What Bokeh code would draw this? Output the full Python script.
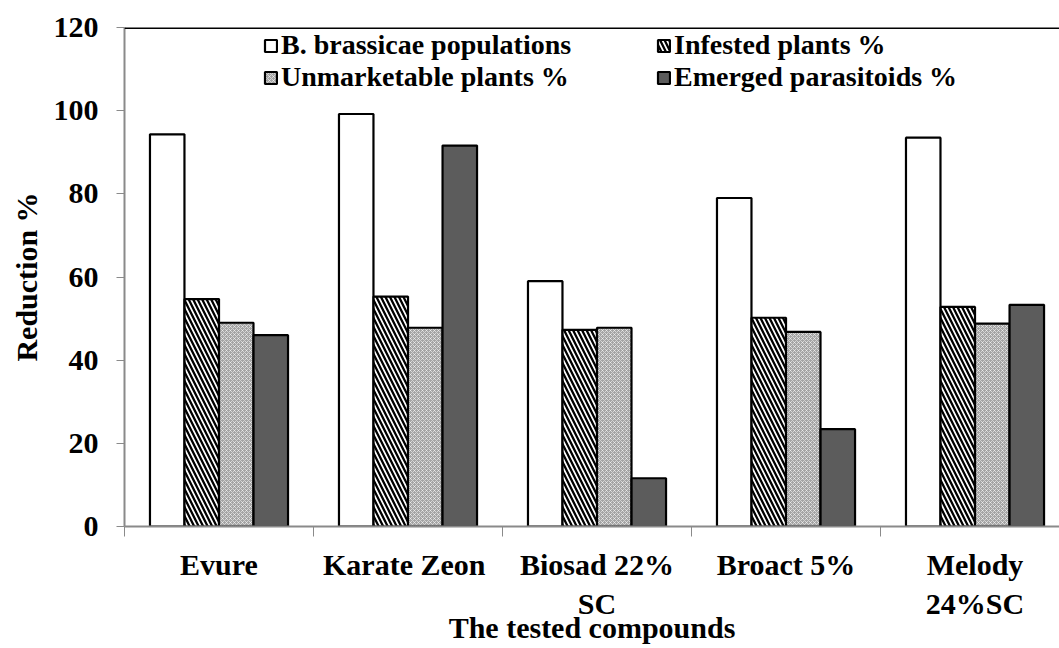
from bokeh.plotting import figure
from bokeh.models import Range1d, FixedTicker, Span, ColumnDataSource, Legend, LegendItem
from bokeh.embed import file_html
from bokeh.resources import INLINE
from bokeh.transform import dodge

# ---- data ----
compounds = ["Evure", "Karate  Zeon", "Biosad 22%\nSC", "Broact 5%", "Melody\n24%SC"]
series_names = ["B. brassicae populations", "Infested plants %",
                "Unmarketable plants %", "Emerged parasitoids %"]
populations = [94.3, 99.2, 59.0, 79.0, 93.5]
infested = [54.7, 55.3, 47.3, 50.2, 52.8]
unmarketable = [49.0, 47.8, 47.8, 46.8, 48.8]
parasitoids = [46.0, 91.6, 11.6, 23.4, 53.3]
y_ticks = [0, 20, 40, 60, 80, 100, 120]
x_title = "The tested compounds"
y_title = "Reduction %"

FONT = "Liberation Serif"

centers = [i + 0.5 for i in range(len(compounds))]
src = ColumnDataSource(dict(x=centers, pop=populations, inf=infested,
                            unm=unmarketable, par=parasitoids))

p = figure(width=1059, height=648, output_backend="svg", toolbar_location=None,
           x_range=Range1d(0, 4.947), y_range=Range1d(0, 120))
p.min_border_left = 124
p.min_border_top = 27
p.min_border_bottom = 122
p.min_border_right = 0
p.outline_line_color = None
p.xgrid.grid_line_color = None
p.ygrid.grid_line_color = None
p.background_fill_color = "white"
p.border_fill_color = "white"

bw = 0.1825
offs = [-0.274, -0.0912, 0.0912, 0.274]

r_pop = p.vbar(x=dodge("x", offs[0]), top="pop", width=bw, bottom=0, source=src,
               fill_color="white", line_color="black", line_width=2.2)
r_inf = p.vbar(x=dodge("x", offs[1]), top="inf", width=bw, bottom=0, source=src,
               fill_color="white", line_color="black", line_width=2.2,
               hatch_pattern="left_diagonal_line", hatch_color="black",
               hatch_weight=2.3, hatch_scale=9)
r_unm = p.vbar(x=dodge("x", offs[2]), top="unm", width=bw, bottom=0, source=src,
               fill_color="#a4a4a4", line_color="black", line_width=2.2,
               hatch_pattern="diagonal_cross", hatch_color="white", hatch_alpha=0.55,
               hatch_weight=1, hatch_scale=4)
r_par = p.vbar(x=dodge("x", offs[3]), top="par", width=bw, bottom=0, source=src,
               fill_color="#5c5c5c", line_color="black", line_width=2.2)

# top border
p.add_layout(Span(location=120, dimension="width", line_color="black", line_width=3))

# y axis
yax = p.yaxis[0]
yax.ticker = FixedTicker(ticks=y_ticks)
yax.axis_line_color = "#8a8a8a"
yax.axis_line_width = 2
yax.major_tick_line_color = "#8a8a8a"
yax.major_tick_out = 8
yax.major_tick_in = 0
yax.minor_tick_line_color = None
yax.major_label_text_font = FONT
yax.major_label_text_font_style = "bold"
yax.major_label_text_font_size = "30px"
yax.major_label_text_color = "black"
yax.major_label_standoff = 18
yax.axis_label = y_title
yax.axis_label_text_font = FONT
yax.axis_label_text_font_style = "bold"
yax.axis_label_text_font_size = "30px"
yax.axis_label_text_color = "black"
yax.axis_label_standoff = 8

# x axis
xax = p.xaxis[0]
xax.ticker = FixedTicker(ticks=centers, minor_ticks=[float(i) for i in range(len(compounds))])
xax.major_label_overrides = {c: name for c, name in zip(centers, compounds)}
xax.axis_line_color = "#8a8a8a"
xax.axis_line_width = 2
xax.major_tick_line_color = None
xax.minor_tick_line_color = "#8a8a8a"
xax.minor_tick_out = 10
xax.minor_tick_in = 0
xax.major_label_text_font = FONT
xax.major_label_text_font_style = "bold"
xax.major_label_text_font_size = "30px"
xax.major_label_text_color = "black"
xax.major_label_standoff = 11
xax.axis_label = x_title
xax.axis_label_text_font = FONT
xax.axis_label_text_font_style = "bold"
xax.axis_label_text_font_size = "30px"
xax.axis_label_text_color = "black"
xax.axis_label_standoff = -12

# legend (column-major fill -> rows: pop/inf, unm/par)
lg = Legend(items=[LegendItem(label=series_names[0], renderers=[r_pop]),
                   LegendItem(label=series_names[2], renderers=[r_unm]),
                   LegendItem(label=series_names[1], renderers=[r_inf]),
                   LegendItem(label=series_names[3], renderers=[r_par])],
            ncols=2, location=(139, 433))
lg.border_line_color = None
lg.background_fill_alpha = 0
lg.label_text_font = FONT
lg.label_text_font_style = "bold"
lg.label_text_font_size = "28px"
lg.label_text_color = "black"
lg.glyph_width = 15
lg.glyph_height = 15
lg.label_standoff = 3
lg.label_width = 375
lg.label_height = 26
lg.spacing = 0
lg.padding = 2
lg.margin = 0
p.add_layout(lg, "center")

open("out.html", "w").write(file_html(p, INLINE))
